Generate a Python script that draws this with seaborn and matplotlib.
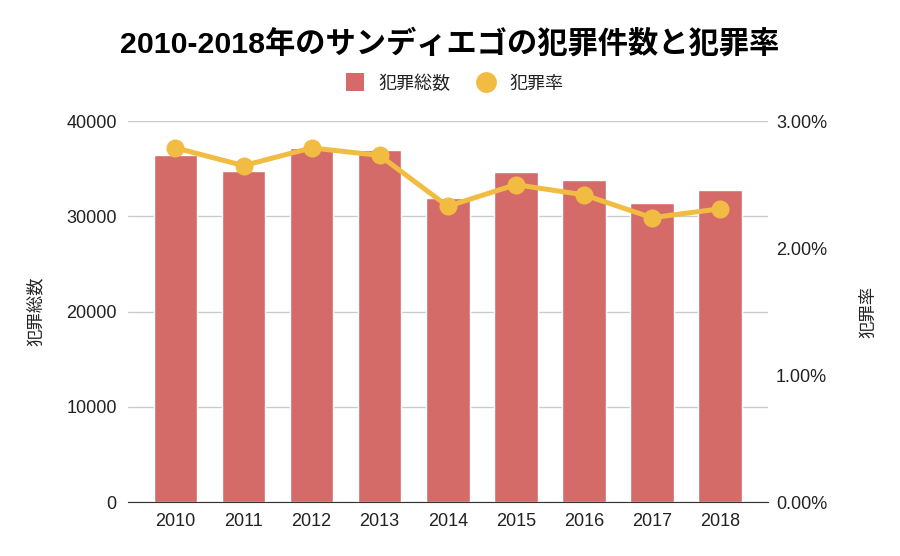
import numpy as np
import pandas as pd
import seaborn as sns
import matplotlib.pyplot as plt
from matplotlib.lines import Line2D
from matplotlib.ticker import FuncFormatter

# データ
years = ['2010', '2011', '2012', '2013', '2014', '2015', '2016', '2017', '2018']
crime_total = [36430, 34750, 37160, 36950, 31920, 34640, 33800, 31390, 32750]
crime_rate = [2.79, 2.65, 2.79, 2.73, 2.33, 2.50, 2.42, 2.24, 2.31]

bar_color = '#d46b69'
line_color = '#f2bc42'

sns.set_style('white')
plt.rcParams['font.family'] = ['Liberation Sans', 'Noto Sans CJK JP']
plt.rcParams['text.color'] = '#222222'
plt.rcParams['axes.labelcolor'] = '#222222'
plt.rcParams['xtick.color'] = '#222222'
plt.rcParams['ytick.color'] = '#222222'

df = pd.DataFrame({'year': years, 'total': crime_total, 'rate': crime_rate})
df['pos'] = np.arange(len(df))

fig = plt.figure(figsize=(9, 5.56), dpi=100)
ax = fig.add_axes([0.142, 0.097, 0.711, 0.685])

sns.barplot(data=df, x='year', y='total', color=bar_color, width=0.64,
            saturation=1, ax=ax, zorder=2)
ax.set_xlim(-0.7, 8.7)
ax.set_ylim(0, 40000)
ax.set_yticks([0, 10000, 20000, 30000, 40000])
ax.grid(axis='y', color='#cccccc', lw=1, zorder=0)
ax.set_axisbelow(True)
ax.set_xlabel('')
ax.set_ylabel('犯罪総数', fontsize=12.5, labelpad=16)
ax.tick_params(length=0, labelsize=13, pad=8)
for s in ['top', 'right', 'left']:
    ax.spines[s].set_visible(False)
ax.spines['bottom'].set_color('#333333')

ax2 = ax.twinx()
sns.lineplot(data=df, x='pos', y='rate', color=line_color, lw=3.6,
             marker='o', markersize=13, markeredgewidth=0, ax=ax2)
ax2.set_ylim(0, 3)
ax2.set_yticks([0, 1, 2, 3])
ax2.yaxis.set_major_formatter(FuncFormatter(lambda v, p: f'{v:.2f}%'))
ax2.set_ylabel('犯罪率', fontsize=12.5, rotation=90, labelpad=24)
ax2.tick_params(length=0, labelsize=13, pad=6)
for s in ax2.spines.values():
    s.set_visible(False)
ax2.grid(False)

fig.suptitle('2010-2018年のサンディエゴの犯罪件数と犯罪率', fontsize=21.8,
             fontweight='bold', y=0.948, color='black')

handles = [
    Line2D([], [], marker='s', color='none', markerfacecolor=bar_color,
           markeredgewidth=0, markersize=13),
    Line2D([], [], marker='o', color='none', markerfacecolor=line_color,
           markeredgewidth=0, markersize=15),
]
fig.legend(handles, ['犯罪総数', '犯罪率'], loc='center', ncol=2,
           bbox_to_anchor=(0.5, 0.849), frameon=False, fontsize=13,
           handletextpad=0.3, columnspacing=1.0)

fig.savefig('out.png', dpi=100)
